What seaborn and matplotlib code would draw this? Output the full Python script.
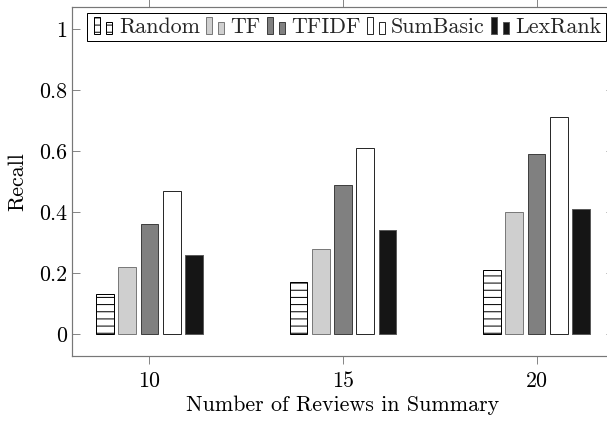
import numpy as np
import pandas as pd
import matplotlib
matplotlib.use("Agg")
import matplotlib.pyplot as plt
import seaborn as sns
from matplotlib.legend_handler import HandlerBase
from matplotlib.patches import Rectangle

# ---------------- data ----------------
review_counts = [10, 15, 20]
methods = ["Random", "TF", "TFIDF", "SumBasic", "LexRank"]
random_recall = [0.13, 0.17, 0.21]
tf_recall = [0.22, 0.28, 0.40]
tfidf_recall = [0.36, 0.49, 0.59]
sumbasic_recall = [0.47, 0.61, 0.71]
lexrank_recall = [0.26, 0.34, 0.41]
y_ticks = [0, 0.2, 0.4, 0.6, 0.8, 1.0]
y_tick_labels = ["0", "0.2", "0.4", "0.6", "0.8", "1"]
x_tick_labels = ["10", "15", "20"]
x_label = "Number of Reviews in Summary"
y_label = "Recall"

# ---------------- styles ----------------
face_colors = ["#ffffff", "#cfcfcf", "#808080", "#ffffff", "#151515"]
edge_colors = ["#000000", "#7a7a7a", "#404040", "#2a2a2a", "#5a5a5a"]
hatches = ["--", "", "", "", ""]

DPI = 86
W, H = 607, 422
def px(v):
    return v * 72.0 / DPI

sns.set_theme(style="white")
plt.rcParams["font.family"] = ["cmr10", "DejaVu Serif"]
plt.rcParams["axes.formatter.use_mathtext"] = True
plt.rcParams["axes.unicode_minus"] = False
plt.rcParams["hatch.linewidth"] = px(1.0)
plt.rcParams["hatch.color"] = "black"

FS = px(22)

all_vals = [random_recall, tf_recall, tfidf_recall, sumbasic_recall, lexrank_recall]
rows = []
for m, vals in zip(methods, all_vals):
    for n, v in zip(review_counts, vals):
        rows.append({"n": n, "recall": v, "method": m})
df = pd.DataFrame(rows)

fig = plt.figure(figsize=(W / DPI, H / DPI), dpi=DPI)
left, right, top, bottom = 72, 614, 7, 356
ax = fig.add_axes([left / W, 1 - bottom / H, (right - left) / W, (bottom - top) / H])

sns.barplot(data=df, x="n", y="recall", hue="method", hue_order=methods,
            native_scale=True, width=0.575, gap=0.2, dodge=True,
            errorbar=None, legend=False, palette=face_colors, saturation=1,
            ax=ax)

for cont, fc, ec, h in zip(ax.containers, face_colors, edge_colors, hatches):
    for p in cont.patches:
        p.set_facecolor(fc)
        p.set_edgecolor(ec)
        p.set_linewidth(px(1.0))
        p.set_hatch(h)

ax.set_xlim(8, 22)
ax.set_ylim(-0.072, 1.072)
ax.set_xticks(review_counts)
ax.set_xticklabels(x_tick_labels)
ax.set_yticks(y_ticks)
ax.set_yticklabels(y_tick_labels)

for s in ax.spines.values():
    s.set_visible(True)
    s.set_color("#777777")
    s.set_linewidth(px(1.2))

ax.tick_params(axis="x", which="both", direction="out", length=px(8), width=px(1),
               color="#888888", bottom=True, top=True, labelsize=FS, pad=px(7),
               labelcolor="black")
ax.tick_params(axis="y", which="both", direction="in", length=px(8), width=px(1),
               color="#888888", left=True, right=True, labelsize=FS, pad=px(5),
               labelcolor="black")

ax.set_xlabel(x_label, fontsize=FS, labelpad=px(5), color="black")
ax.set_ylabel(y_label, fontsize=FS, labelpad=px(12), color="black")


class TwoBarHandler(HandlerBase):
    def create_artists(self, legend, orig_handle, xdescent, ydescent, width,
                       height, fontsize, trans):
        fc = orig_handle.get_facecolor()
        ec = orig_handle.get_edgecolor()
        hatch = orig_handle.get_hatch()
        unit = width / 22.0
        r1 = Rectangle((-xdescent + 4 * unit, -ydescent), 6 * unit, height,
                       facecolor=fc, edgecolor=ec, hatch=hatch,
                       linewidth=px(1.0), transform=trans)
        r2 = Rectangle((-xdescent + 16 * unit, -ydescent), 6 * unit, 0.68 * height,
                       facecolor=fc, edgecolor=ec, hatch=hatch,
                       linewidth=px(1.0), transform=trans)
        return [r1, r2]


handles = [cont.patches[0] for cont in ax.containers]
leg = ax.legend(handles, methods, handler_map={Rectangle: TwoBarHandler()},
                loc="upper left", bbox_to_anchor=((86.5 - left) / (right - left),
                                                  (bottom - 13) / (bottom - top)),
                ncol=5, fontsize=FS, frameon=True, fancybox=False, shadow=False,
                framealpha=1, borderaxespad=0, borderpad=0.18,
                handlelength=22 / 22, handleheight=18 / 22,
                handletextpad=6.5 / 22, columnspacing=2 / 22)
leg.get_frame().set_edgecolor("black")
leg.get_frame().set_linewidth(px(1.0))

fig.savefig("out.png", dpi=DPI)
